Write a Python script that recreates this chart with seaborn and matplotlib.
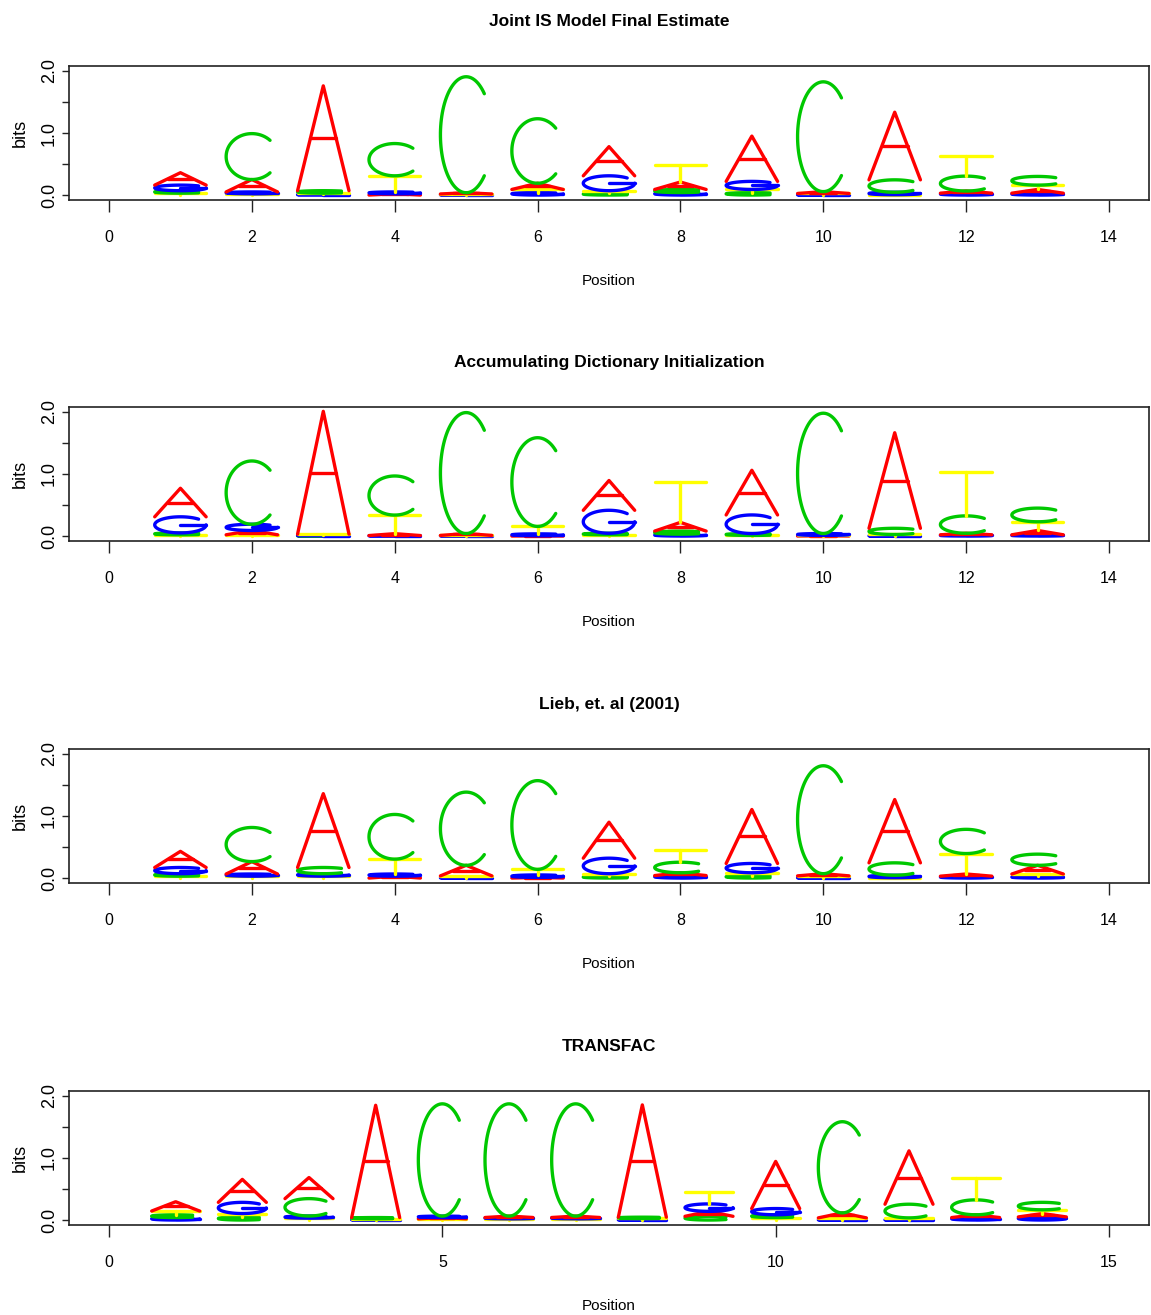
import numpy as np
import matplotlib
matplotlib.use("Agg")
import matplotlib.pyplot as plt
import seaborn as sns

# ---------------- data (bits per letter, per position) ----------------
titles = ["Joint IS Model Final Estimate",
          "Accumulating Dictionary Initialization",
          "Lieb, et. al (2001)",
          "TRANSFAC"]
x_maxes = [14, 14, 14, 15]
x_ticks = [[0, 2, 4, 6, 8, 10, 12, 14], [0, 2, 4, 6, 8, 10, 12, 14],
           [0, 2, 4, 6, 8, 10, 12, 14], [0, 5, 10, 15]]
y_ticks = [0.0, 0.5, 1.0, 1.5, 2.0]
y_tick_labels = ["0.0", "", "1.0", "", "2.0"]

# Panel 1: Joint IS Model Final Estimate
p1_A = [0.20, 0.20, 1.69, 0.02, 0.02, 0.10, 0.47, 0.12, 0.73, 0.03, 1.09, 0.035, 0.06]
p1_C = [0.04, 0.74, 0.04, 0.52, 1.87, 1.04, 0.03, 0.05, 0.04, 1.77, 0.20, 0.24, 0.14]
p1_G = [0.09, 0.03, 0.01, 0.03, 0.005, 0.04, 0.24, 0.04, 0.13, 0.005, 0.04, 0.03, 0.03]
p1_T = [0.03, 0.02, 0.02, 0.26, 0.012, 0.05, 0.04, 0.27, 0.05, 0.02, 0.005, 0.33, 0.07]

# Panel 2: Accumulating Dictionary Initialization
p2_A = [0.46, 0.07, 1.98, 0.03, 0.03, 0.005, 0.48, 0.14, 0.72, 0.005, 1.54, 0.025, 0.07]
p2_C = [0.03, 1.02, 0.005, 0.63, 1.95, 1.43, 0.025, 0.05, 0.03, 1.94, 0.10, 0.28, 0.22]
p2_G = [0.26, 0.10, 0.005, 0.008, 0.005, 0.03, 0.37, 0.03, 0.30, 0.03, 0.005, 0.02, 0.02]
p2_T = [0.02, 0.02, 0.02, 0.30, 0.005, 0.12, 0.02, 0.65, 0.01, 0.005, 0.02, 0.70, 0.14]

# Panel 3: Lieb, et. al (2001)
p3_A = [0.26, 0.20, 1.19, 0.03, 0.17, 0.01, 0.58, 0.045, 0.87, 0.035, 1.02, 0.035, 0.14]
p3_C = [0.04, 0.55, 0.10, 0.72, 1.18, 1.43, 0.03, 0.17, 0.04, 1.74, 0.20, 0.39, 0.18]
p3_G = [0.10, 0.035, 0.04, 0.035, 0.005, 0.04, 0.25, 0.04, 0.15, 0.005, 0.04, 0.03, 0.03]
p3_T = [0.03, 0.03, 0.03, 0.24, 0.03, 0.09, 0.04, 0.20, 0.045, 0.03, 0.005, 0.33, 0.035]

# Panel 4: TRANSFAC
p4_A = [0.15, 0.37, 0.34, 1.81, 0.021, 0.022, 0.022, 1.81, 0.08, 0.76, 0.08, 0.86, 0.045, 0.055]
p4_C = [0.045, 0.05, 0.28, 0.02, 1.81, 1.81, 1.81, 0.021, 0.06, 0.045, 1.47, 0.22, 0.24, 0.12]
p4_G = [0.04, 0.18, 0.035, 0.005, 0.022, 0.021, 0.021, 0.005, 0.12, 0.10, 0.005, 0.005, 0.04, 0.05]
p4_T = [0.06, 0.055, 0.03, 0.015, 0.02, 0.02, 0.02, 0.02, 0.20, 0.04, 0.03, 0.03, 0.36, 0.06]

panels = [
    {"A": p1_A, "C": p1_C, "G": p1_G, "T": p1_T},
    {"A": p2_A, "C": p2_C, "G": p2_G, "T": p2_T},
    {"A": p3_A, "C": p3_C, "G": p3_G, "T": p3_T},
    {"A": p4_A, "C": p4_C, "G": p4_G, "T": p4_T},
]
letter_colors = {"A": "#FF0000", "C": "#00C800", "G": "#0000FF", "T": "#FFFF00"}

# ---------------- style ----------------
sns.set_theme(style="ticks")
plt.rcParams["font.family"] = ["Liberation Sans Narrow", "Liberation Sans", "DejaVu Sans"]
plt.rcParams["axes.linewidth"] = 1.2
plt.rcParams["axes.edgecolor"] = "#222222"

W, H = 1151, 1315
fig = plt.figure(figsize=(W / 100, H / 100), dpi=100)
fig.patch.set_facecolor("white")

box_tops = [66, 407, 749, 1091]
box_h = 134
box_left, box_w = 69, 1080

LETTER_W = 0.72
LW = 2.4


def strokes(letter, xc, y0, h, w=LETTER_W):
    x0, x1 = xc - w / 2, xc + w / 2
    y1 = y0 + h
    if letter == "A":
        return [([x0, xc, x1], [y0, y1, y0]),
                ([x0 + w / 4, x1 - w / 4], [y0 + h / 2, y0 + h / 2])]
    if letter == "T":
        return [([x0, x1], [y1, y1]), ([xc, xc], [y1, y0])]
    yc = y0 + h / 2
    if letter == "C":
        t = np.radians(np.linspace(45, 315, 80))
        return [(xc + w / 2 * np.cos(t), yc + h / 2 * np.sin(t))]
    # G
    t = np.radians(np.linspace(45, 360, 90))
    return [(xc + w / 2 * np.cos(t), yc + h / 2 * np.sin(t)),
            ([xc, x1], [yc, yc])]


for k, data in enumerate(panels):
    top = box_tops[k]
    ax = fig.add_axes([box_left / W, 1 - (top + box_h) / H, box_w / W, box_h / H])
    ax.set_facecolor("white")
    xmax = x_maxes[k]
    ax.set_xlim(-0.04 * xmax, 1.04 * xmax)
    ax.set_ylim(-0.08, 2.08)

    n = len(data["A"])
    for i in range(n):
        pos = i + 1
        col = sorted(((data[L][i], L) for L in "ACGT"), key=lambda p: p[0])
        base = 0.0
        for h, L in col:
            if h <= 0:
                continue
            for xs, ys in strokes(L, pos, base, h):
                ax.plot(xs, ys, color=letter_colors[L], lw=LW,
                        solid_capstyle="round", solid_joinstyle="round")
            base += h

    ax.set_xticks(x_ticks[k])
    ax.set_xticklabels([str(v) for v in x_ticks[k]], fontsize=11.5)
    ax.set_yticks(y_ticks)
    ax.set_yticklabels(y_tick_labels, rotation=90, va="center", fontsize=13,
                       family=["Liberation Sans", "DejaVu Sans"])
    ax.tick_params(axis="x", length=8.6, width=1.0, pad=13, colors="#222222")
    ax.tick_params(axis="y", length=5.0, width=1.0, pad=3, colors="#222222")
    for lab in ax.get_xticklabels() + ax.get_yticklabels():
        lab.set_color("black")
    ax.set_xlabel("Position", fontsize=11, labelpad=21, color="black")
    ax.set_ylabel("bits", fontsize=13, labelpad=9, color="black",
                  family=["Liberation Sans", "DejaVu Sans"])
    ax.set_title(titles[k], fontsize=12.5, fontweight="bold", pad=29, color="black")
    for s in ax.spines.values():
        s.set_visible(True)
    ax.grid(False)

fig.savefig("out.png", dpi=100, facecolor="white")
